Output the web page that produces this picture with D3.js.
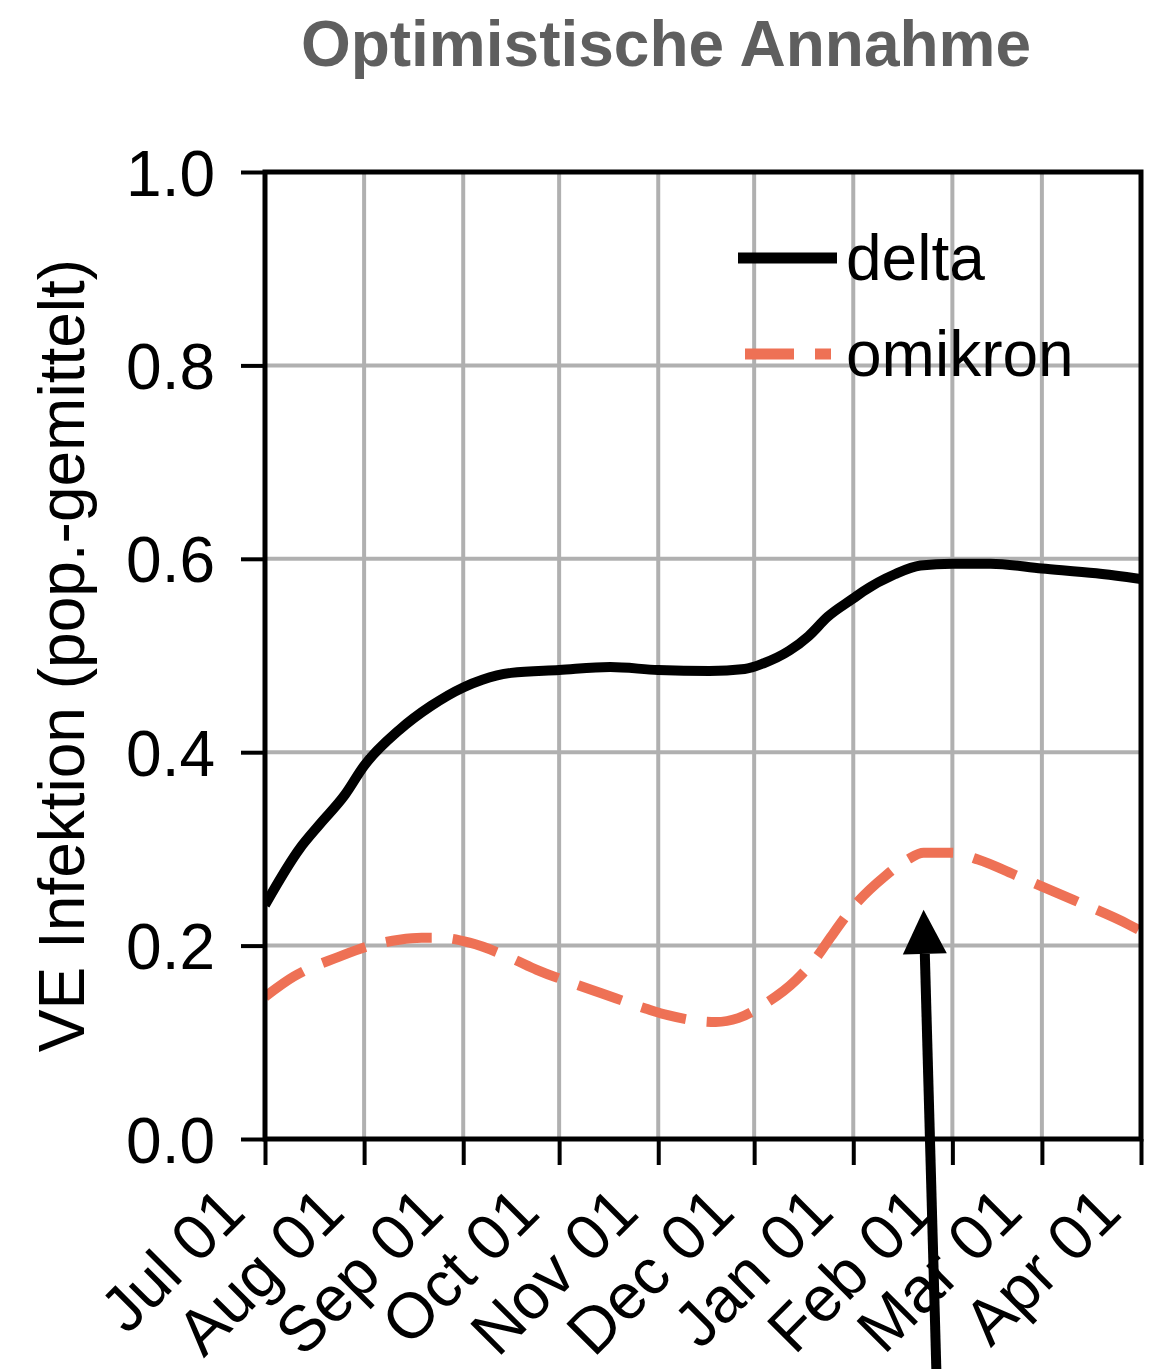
<!DOCTYPE html>
<html><head><meta charset="utf-8">
<script src="https://cdn.jsdelivr.net/npm/d3@7"></script>
<style>body{margin:0;background:#fff}svg{display:block}text{font-family:"Liberation Sans",Arial,sans-serif}</style>
</head><body>
<script>
const title = "Optimistische Annahme";
const yLabel = "VE Infektion (pop.-gemittelt)";
const seriesNames = ["delta", "omikron"];
const tickDates = ["2021-07-01","2021-08-01","2021-09-01","2021-10-01","2021-11-01","2021-12-01","2022-01-01","2022-02-01","2022-03-01","2022-04-01"];
const tickLabels = ["Jul 01","Aug 01","Sep 01","Oct 01","Nov 01","Dec 01","Jan 01","Feb 01","Mar 01","Apr 01"];
const yTicks = [0.0, 0.2, 0.4, 0.6, 0.8, 1.0];
const deltaDates = ["2021-07-01","2021-07-12","2021-07-18","2021-07-26","2021-08-01","2021-08-12","2021-08-22","2021-09-01","2021-09-07","2021-09-16","2021-10-01","2021-10-17","2021-11-01","2021-11-17","2021-11-28","2021-12-04","2021-12-12","2021-12-18","2021-12-24","2022-01-01","2022-01-04","2022-01-14","2022-01-22","2022-02-01","2022-02-13","2022-03-01","2022-03-18","2022-04-01"];
const deltaValues = [0.242,0.301,0.325,0.356,0.386,0.423,0.448,0.467,0.475,0.482,0.485,0.488,0.485,0.484,0.486,0.492,0.505,0.520,0.540,0.559,0.566,0.584,0.593,0.595,0.595,0.590,0.585,0.579];
const omiDates = ["2021-07-01","2021-07-10","2021-07-14","2021-07-23","2021-08-02","2021-08-12","2021-08-19","2021-08-25","2021-09-03","2021-09-16","2021-09-24","2021-10-07","2021-10-14","2021-10-28","2021-11-04","2021-11-19","2021-11-26","2021-12-04","2021-12-14","2021-12-21","2021-12-25","2022-01-01","2022-01-11","2022-01-18","2022-01-23","2022-02-01","2022-02-09","2022-02-22","2022-03-11","2022-03-28","2022-04-01"];
const omiValues = [0.147,0.168,0.175,0.187,0.199,0.206,0.208,0.208,0.203,0.187,0.175,0.159,0.151,0.135,0.128,0.121,0.125,0.139,0.164,0.190,0.209,0.240,0.272,0.289,0.296,0.296,0.289,0.271,0.247,0.222,0.215];
const arrowDates = ["2022-01-27","2022-01-23"];
const arrowValues = [-0.24, 0.237];

const W = 1153, H = 1369;
const m = {left:265, right:12, top:172, bottom:230};
const parse = d3.timeParse("%Y-%m-%d");
const svg = d3.select("body").append("svg").attr("width", W).attr("height", H);
const x = d3.scaleTime().domain([parse("2021-07-01"), parse("2022-04-01")]).range([m.left, W - m.right]);
const y = d3.scaleLinear().domain([0, 1]).range([H - m.bottom, m.top]);
const FS = 64;

// grid
svg.append("g").selectAll("line.v").data(tickDates.map(parse)).join("line")
  .attr("x1", d => x(d)).attr("x2", d => x(d)).attr("y1", y(0)).attr("y2", y(1))
  .attr("stroke", "#b0b0b0").attr("stroke-width", 4);
svg.append("g").selectAll("line.h").data(yTicks).join("line")
  .attr("x1", x.range()[0]).attr("x2", x.range()[1]).attr("y1", d => y(d)).attr("y2", d => y(d))
  .attr("stroke", "#b0b0b0").attr("stroke-width", 4);

// lines
const line = d3.line().x(d => x(d[0])).y(d => y(d[1])).curve(d3.curveMonotoneX);
const deltaData = deltaDates.map((d, i) => [parse(d), deltaValues[i]]);
const omiData = omiDates.map((d, i) => [parse(d), omiValues[i]]);
svg.append("clipPath").attr("id", "c").append("rect")
  .attr("x", x.range()[0]).attr("y", y(1)).attr("width", x.range()[1] - x.range()[0]).attr("height", y(0) - y(1));
svg.append("path").datum(deltaData).attr("d", line).attr("fill", "none")
  .attr("stroke", "#000").attr("stroke-width", 10).attr("clip-path", "url(#c)");
svg.append("path").datum(omiData).attr("d", line).attr("fill", "none")
  .attr("stroke", "#ee7155").attr("stroke-width", 10).attr("stroke-dasharray", "46,21").attr("clip-path", "url(#c)");

// axes frame
const xAxis = svg.append("g").attr("transform", `translate(0,${y(0)})`)
  .call(d3.axisBottom(x).tickValues(tickDates.map(parse)).tickSize(26).tickFormat(() => ""));
xAxis.select(".domain").remove();
xAxis.selectAll(".tick line").attr("stroke", "#000").attr("stroke-width", 4);
const yAxis = svg.append("g").attr("transform", `translate(${x.range()[0]},0)`)
  .call(d3.axisLeft(y).tickValues(yTicks).tickSize(24).tickFormat(d3.format(".1f")));
yAxis.select(".domain").remove();
yAxis.selectAll(".tick line").attr("stroke", "#000").attr("stroke-width", 4);
yAxis.selectAll(".tick text").attr("font-size", FS).attr("fill", "#000").attr("x", -50).attr("dy", "0.36em")
  .attr("font-family", "Liberation Sans, Arial, sans-serif");
svg.append("rect").attr("x", x.range()[0]).attr("y", y(1)).attr("width", x.range()[1] - x.range()[0]).attr("height", y(0) - y(1))
  .attr("fill", "none").attr("stroke", "#000").attr("stroke-width", 5);

// x labels
svg.append("g").selectAll("text").data(tickDates).join("text")
  .attr("transform", d => `translate(${x(parse(d)) - 17},${y(0) + 76}) rotate(-45)`)
  .attr("text-anchor", "end").attr("font-size", FS).text((d, i) => tickLabels[i]);

// title
svg.append("text").attr("x", 666).attr("y", 66).attr("text-anchor", "middle")
  .attr("font-size", FS).attr("font-weight", "bold").attr("fill", "#5f5f5f").text(title);
// y label
svg.append("text").attr("transform", `translate(84,${(y(0)+y(1))/2}) rotate(-90)`)
  .attr("text-anchor", "middle").attr("font-size", FS).text(yLabel);

// legend
const leg = svg.append("g");
[["#000", null, 0, 738, 837], ["#ee7155", "49,21", 1, 745, 831]].forEach(([c, da, i, a, b]) => {
  const ly = 258 + i * 96;
  leg.append("line").attr("x1", a).attr("x2", b).attr("y1", ly).attr("y2", ly)
    .attr("stroke", c).attr("stroke-width", 11).attr("stroke-dasharray", da);
  leg.append("text").attr("x", 846).attr("y", ly + 22).attr("font-size", FS).text(seriesNames[i]);
});

// arrow annotation
const ax0 = x(parse(arrowDates[0])), ay0 = y(arrowValues[0]);
const ax1 = x(parse(arrowDates[1])), ay1 = y(arrowValues[1]);
const ang = Math.atan2(ay1 - ay0, ax1 - ax0);
const hl = 44, hw = 22;
const bx = ax1 - hl * Math.cos(ang), by = ay1 - hl * Math.sin(ang);
svg.append("line").attr("x1", ax0).attr("y1", ay0).attr("x2", bx).attr("y2", by)
  .attr("stroke", "#000").attr("stroke-width", 10);
svg.append("path").attr("d", d3.line()([
  [ax1, ay1],
  [bx + hw * Math.sin(ang), by - hw * Math.cos(ang)],
  [bx - hw * Math.sin(ang), by + hw * Math.cos(ang)]
])).attr("fill", "#000");
</script>
</body></html>
